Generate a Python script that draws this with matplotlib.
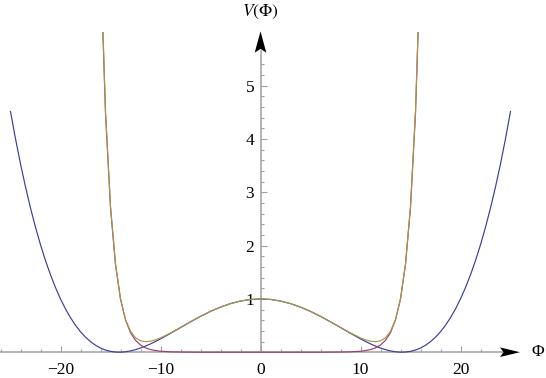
import matplotlib
matplotlib.use("Agg")
import matplotlib.pyplot as plt
from matplotlib.patches import Polygon, Rectangle

plt.rcParams['font.family'] = 'serif'
plt.rcParams['font.serif'] = ['Liberation Serif', 'DejaVu Serif']
plt.rcParams['mathtext.fontset'] = 'stix'

# синяя кривая: двойная яма
phi_blue = [-25, -24.5, -24, -23.5, -23, -22.5, -22, -21.5, -21, -20.5, -20, -19.5, -19,
            -18.5, -18, -17.5, -17, -16.5, -16, -15.5, -15, -14.5, -14, -13.5, -13, -12.5,
            -12, -11.5, -11, -10.5, -10,
            -9, -8, -7, -6, -5, -4, -3, -2, -1, 0, 1, 2, 3, 4, 5, 6, 7, 8, 9,
            10, 10.5, 11, 11.5, 12, 12.5, 13, 13.5, 14, 14.5, 15, 15.5, 16, 16.5, 17, 17.5,
            18, 18.5, 19, 19.5, 20, 20.5, 21, 21.5, 22, 22.5, 23, 23.5, 24, 24.5, 25]
v_blue = [4.516, 4.005, 3.534, 3.102, 2.706, 2.345, 2.016, 1.719, 1.452, 1.213, 1.000, 0.812,
          0.648, 0.506, 0.384, 0.282, 0.198, 0.131, 0.078, 0.041, 0.016, 0.003, 0.000, 0.008,
          0.024, 0.048, 0.078, 0.115, 0.156, 0.201, 0.250,
          0.354, 0.462, 0.570, 0.672, 0.766, 0.846, 0.912, 0.960, 0.990, 1.000, 0.990, 0.960,
          0.912, 0.846, 0.766, 0.672, 0.570, 0.462, 0.354,
          0.250, 0.201, 0.156, 0.115, 0.078, 0.048, 0.024, 0.008, 0.000, 0.003, 0.016, 0.041,
          0.078, 0.131, 0.198, 0.282, 0.384, 0.506, 0.648, 0.812, 1.000, 1.213, 1.452, 1.719,
          2.016, 2.345, 2.706, 3.102, 3.534, 4.005, 4.516]

# красная и оливковая кривые (общая сетка по Φ)
phi_steep = [-16, -15.5, -15, -14.5, -14, -13.5, -13, -12.5, -12, -11.5, -11, -10.5, -10,
             -9, -8, -7, -6, -5, -4, -3, -2, -1, 0, 1, 2, 3, 4, 5, 6, 7, 8, 9,
             10, 10.5, 11, 11.5, 12, 12.5, 13, 13.5, 14, 14.5, 15, 15.5, 16]
v_red = [7.389, 4.482, 2.718, 1.649, 1.000, 0.607, 0.368, 0.223, 0.135, 0.082, 0.050, 0.030,
         0.018, 0.007, 0.003, 0.001, 0.0, 0.0, 0.0, 0.0, 0.0, 0.0, 0.0, 0.0, 0.0, 0.0, 0.0,
         0.0, 0.0, 0.001, 0.003, 0.007, 0.018, 0.030, 0.050, 0.082, 0.135, 0.223, 0.368,
         0.607, 1.000, 1.649, 2.718, 4.482, 7.389]
v_olive = [7.468, 4.522, 2.734, 1.651, 1.000, 0.614, 0.392, 0.271, 0.214, 0.197, 0.206, 0.232,
           0.268, 0.361, 0.465, 0.571, 0.673, 0.766, 0.846, 0.912, 0.960, 0.990, 1.000, 0.990,
           0.960, 0.912, 0.846, 0.766, 0.673, 0.571, 0.465, 0.361, 0.268, 0.232, 0.206, 0.197,
           0.214, 0.271, 0.392, 0.614, 1.000, 1.651, 2.734, 4.522, 7.468]

x_major = [-20, -10, 0, 10, 20]
y_major = [1, 2, 3, 4, 5]

fig = plt.figure(figsize=(5.46, 3.78), dpi=100)
ax = fig.add_axes([0, 0, 1, 1])
ax.set_xlim(-26.05, 28.55)
ax.set_ylim(-0.484, 6.608)

# область отсечения как PlotRange
clip = Rectangle((-26.05, -0.484), 60, 6.49, transform=ax.transData,
                 facecolor='none', edgecolor='none')
ax.add_patch(clip)

for xs, ys, col in [(phi_blue, v_blue, '#3d3d99'),
                    (phi_steep, v_red, '#993d71'),
                    (phi_steep, v_olive, '#a8964a')]:
    ln, = ax.plot(xs, ys, color=col, lw=0.85, zorder=3, solid_joinstyle='round')
    ln.set_clip_path(clip)

axis_col = '#a0a0a0'
for s in ['top', 'right']:
    ax.spines[s].set_visible(False)
ax.spines['bottom'].set_position(('data', 0))
ax.spines['left'].set_position(('data', 0))
ax.spines['bottom'].set_bounds(-26.05, 24.2)
ax.spines['left'].set_bounds(0, 5.66)
for s in ['bottom', 'left']:
    ax.spines[s].set_color(axis_col)
    ax.spines[s].set_linewidth(1.1)
    ax.spines[s].set_zorder(1)

ax.set_xticks(x_major)
ax.set_xticks([t for t in range(-26, 23, 2) if t % 10 != 0], minor=True)
ax.set_yticks(y_major)
ax.set_yticks([round(0.2 * i, 1) for i in range(1, 28) if i % 5 != 0], minor=True)

ax.tick_params(which='both', direction='in', color=axis_col, labelsize=12.5, labelcolor='black')
ax.tick_params(which='major', length=4.3, width=0.8)
ax.tick_params(which='minor', length=2.5, width=0.8)
ax.tick_params(axis='x', pad=7)
ax.tick_params(axis='y', pad=4.5)

# стрелки осей
xa = Polygon([(25.95, 0), (23.95, 0.09), (24.3, 0), (23.95, -0.09)], closed=True,
             facecolor='black', edgecolor='none', zorder=4)
ya = Polygon([(0, 6.02), (-0.58, 5.62), (0, 5.69), (0.58, 5.62)], closed=True,
             facecolor='black', edgecolor='none', zorder=4)
ax.add_patch(xa)
ax.add_patch(ya)

ax.text(27.75, 0, 'Φ', ha='center', va='center', fontsize=12.5)
ax.text(0, 6.38, r'$V(\Phi)$', ha='center', va='center', fontsize=12.5)

fig.savefig('out.png', dpi=100)
